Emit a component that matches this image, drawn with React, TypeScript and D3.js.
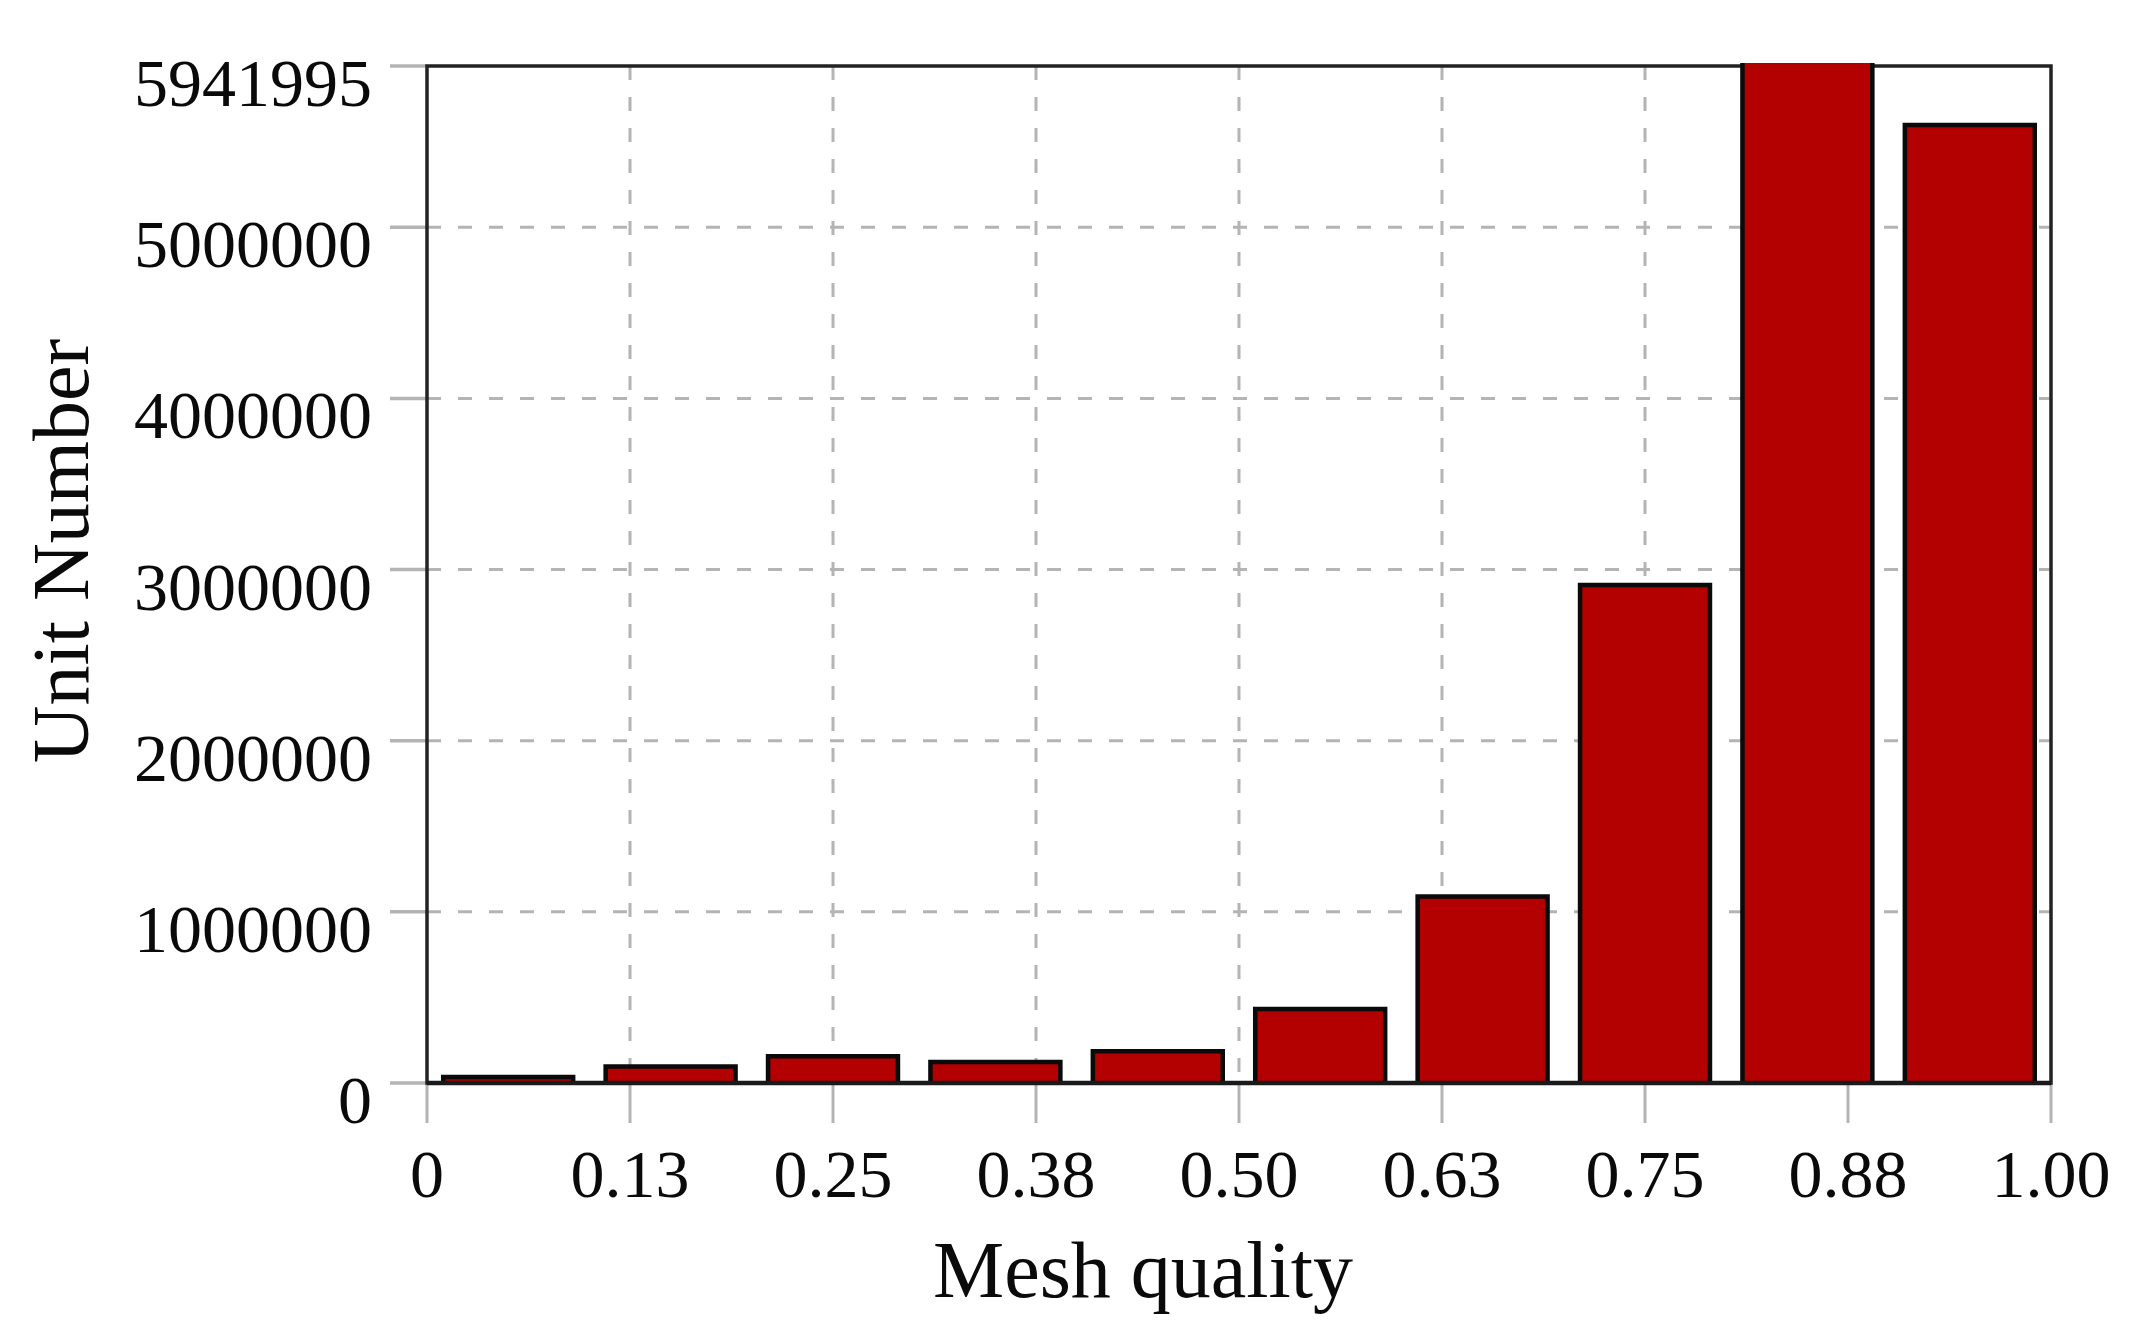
import React from "react";
import * as d3 from "d3";

// ---- data ----
const binStarts: number[] = [0, 0.1, 0.2, 0.3, 0.4, 0.5, 0.6, 0.7, 0.8, 0.9];
const binWidth = 0.1;
const unitCounts: number[] = [35000, 97000, 156000, 123000, 185000, 432000, 1090000, 2910000, 5941995, 5598000];

const xTickValues: number[] = [0, 0.125, 0.25, 0.375, 0.5, 0.625, 0.75, 0.875, 1];
const xTickLabels: string[] = ["0", "0.13", "0.25", "0.38", "0.50", "0.63", "0.75", "0.88", "1.00"];
const yTickValues: number[] = [0, 1000000, 2000000, 3000000, 4000000, 5000000, 5941995];
const yTickLabels: string[] = ["0", "1000000", "2000000", "3000000", "4000000", "5000000", "5941995"];
const yMax = 5941995;

const xTitle = "Mesh quality";
const yTitle = "Unit Number";

// ---- layout ----
const W = 2135;
const H = 1342;
const plot = { left: 427, right: 2051, top: 66, bottom: 1083 };
const FONT = "'Liberation Serif', 'Times New Roman', serif";
const BAR_FILL = "#b30000";
const GRID = "#b4b4b4";

export default function App() {
  const x = d3.scaleLinear().domain([0, 1]).range([plot.left, plot.right]);
  const y = d3.scaleLinear().domain([0, yMax]).range([plot.bottom, plot.top]);
  const pad = binWidth * 0.1;

  return (
    <svg
      width={W}
      height={H}
      viewBox={`0 0 ${W} ${H}`}
      style={{ position: "absolute", left: 0, top: 0, background: "#fff" }}
    >
      <rect x={0} y={0} width={W} height={H} fill="#fff" />

      {/* horizontal grid */}
      {yTickValues
        .filter((v) => v > 0 && v < yMax)
        .map((v, i) => (
          <line
            key={"hg" + i}
            x1={plot.left}
            x2={plot.right}
            y1={y(v)}
            y2={y(v)}
            stroke={GRID}
            strokeWidth={3}
            strokeDasharray="14,17"
          />
        ))}
      {/* vertical grid */}
      {xTickValues
        .filter((v) => v > 0 && v < 1)
        .map((v, i) => (
          <line
            key={"vg" + i}
            x1={x(v)}
            x2={x(v)}
            y1={plot.top}
            y2={plot.bottom}
            stroke={GRID}
            strokeWidth={3}
            strokeDasharray="14,17"
          />
        ))}

      {/* y tick marks */}
      {yTickValues.map((v, i) => (
        <line key={"yt" + i} x1={plot.left - 37} x2={plot.left} y1={y(v)} y2={y(v)} stroke={GRID} strokeWidth={3.5} />
      ))}
      {/* x tick marks */}
      {xTickValues.map((v, i) => (
        <line key={"xt" + i} x1={x(v)} x2={x(v)} y1={plot.bottom} y2={plot.bottom + 40} stroke={GRID} strokeWidth={3} />
      ))}

      {/* frame */}
      <rect
        x={plot.left}
        y={plot.top}
        width={plot.right - plot.left}
        height={plot.bottom - plot.top}
        fill="none"
        stroke="#222"
        strokeWidth={3.5}
      />

      {/* bars */}
      {binStarts.map((s, i) => {
        const v = unitCounts[i];
        const x0 = x(s + pad);
        const x1 = x(s + binWidth - pad);
        const yt = y(v);
        const atTop = v >= yMax;
        const fillTop = atTop ? yt - 3 : yt;
        const outline = atTop
          ? `M${x0},${plot.bottom}V${yt - 3}M${x1},${yt - 3}V${plot.bottom}`
          : `M${x0},${plot.bottom}V${yt}H${x1}V${plot.bottom}`;
        return (
          <g key={"bar" + i}>
            <rect x={x0} y={fillTop} width={x1 - x0} height={plot.bottom - fillTop} fill={BAR_FILL} />
            <path d={outline} fill="none" stroke="#0a0a0a" strokeWidth={4.5} />
          </g>
        );
      })}

      {/* bottom axis line on top */}
      <line x1={plot.left} x2={plot.right} y1={plot.bottom} y2={plot.bottom} stroke="#1a1a1a" strokeWidth={4.5} />

      {/* y tick labels */}
      {yTickValues.map((v, i) => (
        <text
          key={"yl" + i}
          x={372}
          y={y(v) + 40}
          textAnchor="end"
          fontFamily={FONT}
          fontSize={68}
          fill="#0a0a0a"
        >
          {yTickLabels[i]}
        </text>
      ))}
      {/* x tick labels */}
      {xTickValues.map((v, i) => (
        <text
          key={"xl" + i}
          x={x(v)}
          y={1197}
          textAnchor="middle"
          fontFamily={FONT}
          fontSize={68}
          fill="#0a0a0a"
        >
          {xTickLabels[i]}
        </text>
      ))}

      {/* axis titles */}
      <text x={1143} y={1297} textAnchor="middle" fontFamily={FONT} fontSize={80} fill="#0a0a0a">
        {xTitle}
      </text>
      <text
        transform="translate(88,551) rotate(-90)"
        textAnchor="middle"
        fontFamily={FONT}
        fontSize={80}
        fill="#0a0a0a"
      >
        {yTitle}
      </text>
    </svg>
  );
}
